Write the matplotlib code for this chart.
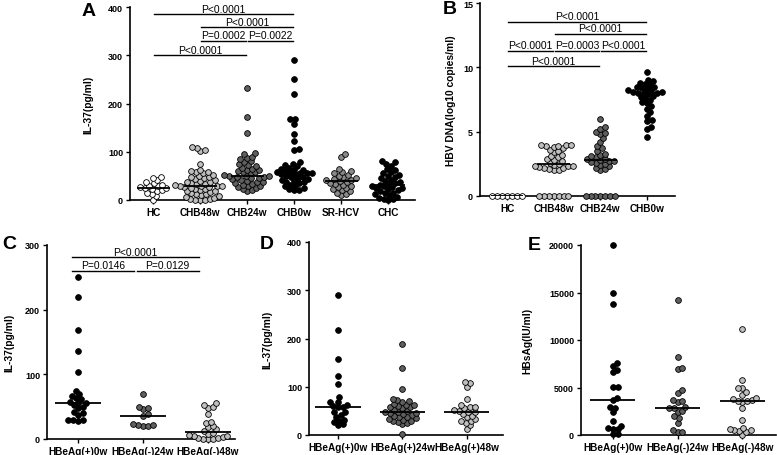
#!/usr/bin/env python3
"""
Scatter plots IL-37 / HBV DNA / HBsAg (style GraphPad)
"""

import numpy as np
import matplotlib
matplotlib.use("Agg")
import matplotlib.pyplot as plt

plt.rcParams['font.family'] = ['Liberation Sans', 'DejaVu Sans']

WHITE, LIGHT, MID, DARK, BLACK = '#ffffff', '#bfbfbf', '#8a8a8a', '#5f5f5f', '#000000'

# ---- Panel A : IL-37 (pg/ml)
a_groups = ['HC', 'CHB48w', 'CHB24w', 'CHB0w', 'SR-HCV', 'CHC']
a_hc = [0, 8, 12, 15, 18, 20, 22, 24, 25, 26, 28, 30, 32, 35, 38, 42, 45, 47]
a_chb48 = [0, 0, 1, 2, 3, 5, 6, 8, 10, 12, 13, 15, 16, 18, 19, 20, 22, 23, 25, 26,
           27, 28, 29, 30, 30, 31, 33, 34, 35, 37, 38, 40, 41, 43, 45, 47, 48, 50,
           52, 55, 57, 58, 60, 62, 75, 101, 104, 108, 110]
a_chb24 = [18, 20, 22, 25, 27, 28, 30, 32, 33, 35, 37, 38, 40, 41, 43, 45, 46, 47,
           48, 50, 50, 50, 51, 55, 57, 58, 60, 62, 63, 65, 67, 70, 72, 75, 78, 80,
           85, 88, 90, 95, 97, 139, 172, 232]
a_chb0 = [20, 21, 22, 25, 28, 30, 32, 35, 37, 38, 40, 42, 43, 45, 47, 48, 50, 52,
          53, 55, 55, 55, 57, 58, 60, 62, 63, 65, 67, 70, 72, 75, 78, 103, 106, 122,
          136, 158, 168, 168, 220, 250, 290]
a_srhcv = [10, 12, 15, 18, 20, 22, 25, 27, 30, 32, 34, 36, 38, 40, 41, 42, 44, 45,
           47, 50, 52, 55, 57, 60, 65, 90, 95]
a_chc = [0, 2, 3, 5, 7, 10, 12, 14, 15, 18, 20, 22, 24, 25, 27, 28, 30, 32, 33, 35,
         38, 40, 42, 45, 48, 50, 52, 55, 58, 62, 65, 70, 75, 78, 80]
a_values = [a_hc, a_chb48, a_chb24, a_chb0, a_srhcv, a_chc]
a_colors = [WHITE, LIGHT, DARK, BLACK, MID, BLACK]
a_pvals = [(0, 3, 385, 'P<0.0001'), (1, 3, 358, 'P<0.0001'),
           (1, 2, 330, 'P=0.0002'), (2, 3, 330, 'P=0.0022'),
           (0, 2, 300, 'P<0.0001')]

# ---- Panel B : HBV DNA (log10 copies/ml)
b_groups = ['HC', 'CHB48w', 'CHB24w', 'CHB0w']
b_hc = [0, 0, 0, 0, 0, 0, 0]
b_chb48 = [0, 0, 0, 0, 0, 0, 0,
           2.0, 2.05, 2.1, 2.15, 2.2, 2.25, 2.3, 2.3, 2.35, 2.4, 2.45, 2.6, 2.7, 2.8,
           2.9, 3.0, 3.1, 3.2, 3.4, 3.5, 3.6, 3.7, 3.8, 3.85, 3.9, 3.95, 4.0, 4.0]
b_chb24 = [0, 0, 0, 0, 0, 0, 0,
           2.0, 2.1, 2.2, 2.3, 2.4, 2.5, 2.6, 2.65, 2.7, 2.75, 2.8, 2.85, 2.9, 3.0,
           3.1, 3.2, 3.3, 3.5, 3.7, 3.9, 4.2, 4.5, 4.8, 4.9, 5.0, 5.2, 5.4, 6.0]
b_chb0 = [4.6, 5.2, 5.4, 5.8, 5.9, 6.2, 6.5, 6.8, 7.0, 7.2, 7.3, 7.5, 7.6, 7.7, 7.8,
          7.9, 8.0, 8.0, 8.0, 8.1, 8.1, 8.2, 8.2, 8.3, 8.4, 8.5, 8.5, 8.6, 8.7, 8.8,
          8.9, 9.0, 9.6]
b_values = [b_hc, b_chb48, b_chb24, b_chb0]
b_colors = [WHITE, LIGHT, DARK, BLACK]
b_pvals = [(0, 3, 13.55, 'P<0.0001'), (1, 3, 12.6, 'P<0.0001'),
           (0, 1, 11.3, 'P<0.0001'), (1, 2, 11.3, 'P=0.0003'),
           (2, 3, 11.3, 'P<0.0001'), (0, 2, 10.1, 'P<0.0001')]

# ---- Panel C : IL-37, HBeAg(+)0w -> HBeAg(-)
c_groups = ['HBeAg(+)0w', 'HBeAg(-)24w', 'HBeAg(-)48w']
c_pos0 = [28, 29, 30, 30, 37, 40, 42, 48, 50, 52, 55, 56, 57, 62, 64, 66, 70, 75,
          103, 136, 168, 220, 250]
c_neg24 = [20, 20, 21, 22, 23, 36, 38, 47, 48, 50, 70]
c_neg48 = [0, 0, 0, 1, 2, 3, 4, 5, 6, 8, 10, 12, 15, 18, 20, 25, 27, 38, 48, 50, 52, 55]
c_values = [c_pos0, c_neg24, c_neg48]
c_colors = [BLACK, DARK, LIGHT]
c_pvals = [(0, 2, 281, 'P<0.0001'), (0, 1, 260, 'P=0.0146'), (1, 2, 260, 'P=0.0129')]

# ---- Panel D : IL-37, HBeAg(+) persistant
d_groups = ['HBeAg(+)0w', 'HBeAg(+)24w', 'HBeAg(+)48w']
d_pos0 = [20, 22, 27, 30, 32, 38, 42, 47, 48, 57, 58, 60, 62, 68, 68, 78, 105, 122,
          158, 218, 290]
d_pos24 = [3, 22, 25, 27, 28, 30, 32, 33, 35, 37, 38, 40, 42, 43, 45, 46, 47, 48, 50,
           52, 55, 57, 58, 60, 62, 63, 65, 68, 70, 72, 75, 95, 138, 188]
d_pos48 = [12, 20, 25, 28, 30, 33, 38, 40, 43, 47, 48, 50, 52, 55, 57, 58, 62, 75,
           100, 108, 110]
d_values = [d_pos0, d_pos24, d_pos48]
d_colors = [BLACK, DARK, LIGHT]

# ---- Panel E : HBsAg (IU/ml)
e_groups = ['HBeAg(+)0w', 'HBeAg(-)24w', 'HBeAg(-)48w']
e_pos0 = [80, 100, 600, 650, 700, 1000, 1500, 2400, 2850, 2900, 3700, 3850, 5050,
          5100, 6600, 6800, 7300, 7550, 13800, 15000, 20000]
e_neg24 = [300, 350, 500, 1300, 1800, 2000, 2450, 2500, 2800, 2850, 2900, 3500, 3600,
           3650, 4400, 4700, 6900, 7100, 8200, 14200]
e_neg48 = [0, 300, 400, 500, 550, 600, 700, 1600, 2800, 3500, 3550, 3600, 3700, 3750,
           3900, 4200, 4500, 4900, 5000, 5800, 11200]
e_values = [e_pos0, e_neg24, e_neg48]
e_colors = [BLACK, DARK, LIGHT]

W, H = 777, 456


def add_axes(fig, left, right, top, bottom):
    """Axes placees en pixels de la figure"""
    return fig.add_axes([left / W, 1 - bottom / H, (right - left) / W, (bottom - top) / H])


def swarm(ax, xpos, values, color, d=4.9, s=17):
    """Nuage de points en essaim (leger chevauchement comme GraphPad)"""
    vals = np.asarray(values, float)
    order = np.argsort(vals, kind='stable')
    pts = ax.transData.transform(np.column_stack([np.full(len(vals), xpos), vals]))
    x0 = pts[0, 0]
    placed = []
    xs = np.zeros(len(vals))
    for i in order:
        y = pts[i, 1]
        cands = [0.0]
        for px, py in placed:
            dy = y - py
            if abs(dy) < d:
                dx = np.sqrt(d * d - dy * dy)
                cands += [px + dx, px - dx]
        cands.sort(key=abs)
        for c in cands:
            if all((c - px) ** 2 + (y - py) ** 2 >= d * d - 1e-6 for px, py in placed):
                break
        placed.append((c, y))
        xs[i] = x0 + c
    xd = ax.transData.inverted().transform(np.column_stack([xs, pts[:, 1]]))[:, 0]
    ax.scatter(xd, vals, s=s, c=color, edgecolors='black', linewidths=0.6,
               zorder=3, clip_on=False)


def panel(ax, groups, values, colors, xlim, ylim, yticks, ylabel, labx,
          pvals=(), pshift=0.0):
    ax.set_xlim(*xlim)
    ax.set_ylim(*ylim)
    for sp in ['top', 'right']:
        ax.spines[sp].set_visible(False)
    for sp in ['left', 'bottom']:
        ax.spines[sp].set_linewidth(1.2)
    ax.set_yticks(yticks)
    ax.set_yticklabels([str(t) for t in yticks], fontsize=6.5, fontweight='bold')
    ax.set_xticks(range(len(groups)))
    ax.set_xticklabels(groups, fontsize=7.2, fontweight='bold')
    ax.tick_params(axis='y', length=3, width=1, pad=2)
    ax.tick_params(axis='x', length=3, width=1, pad=2)
    ax.set_ylabel(ylabel, fontsize=7.4, fontweight='bold')
    ax.yaxis.set_label_coords(labx, 0.5)

    for i, (v, col) in enumerate(zip(values, colors)):
        swarm(ax, i, v, col)
        med = np.median(v)
        ax.plot([i - 0.35, i + 0.35], [med, med], color='black', lw=1.3,
                zorder=4, solid_capstyle='butt')

    for i, j, y, txt in pvals:
        x1, x2 = i + pshift + 0.02, j + pshift - 0.02
        ax.plot([x1, x2], [y, y], color='black', lw=1.0, clip_on=False)
        ax.annotate(txt, ((x1 + x2) / 2, y), xytext=(0, 0.3), textcoords='offset points',
                    ha='center', va='bottom', fontsize=7.4, annotation_clip=False)


def main():
    fig = plt.figure(figsize=(W / 100, H / 100), dpi=100)

    axA = add_axes(fig, 130, 415, 8, 201)
    panel(axA, a_groups, a_values, a_colors, (-0.49, 5.57), (0, 400),
          [0, 100, 200, 300, 400], 'IL-37(pg/ml)', -0.13, a_pvals)

    axB = add_axes(fig, 480, 675, 4, 197)
    panel(axB, b_groups, b_values, b_colors, (-0.58, 3.6), (0, 15),
          [0, 5, 10, 15], 'HBV DNA(log10 copies/ml)', -0.123, b_pvals)

    axC = add_axes(fig, 47, 235, 246, 440)
    panel(axC, c_groups, c_values, c_colors, (-0.477, 2.415), (0, 300),
          [0, 100, 200, 300], 'IL-37(pg/ml)', -0.176, c_pvals, pshift=-0.12)

    axD = add_axes(fig, 309, 503, 243, 436)
    panel(axD, d_groups, d_values, d_colors, (-0.45, 2.56), (0, 400),
          [0, 100, 200, 300, 400], 'IL-37(pg/ml)', -0.19)

    axE = add_axes(fig, 581, 776, 246, 436)
    panel(axE, e_groups, e_values, e_colors, (-0.49, 2.52), (0, 20000),
          [0, 5000, 10000, 15000, 20000], 'HBsAg(IU/ml)', -0.251)

    # lettres des panneaux
    for txt, x, y in [('A', 89, 12), ('B', 450, 10), ('C', 9, 245),
                      ('D', 267, 245), ('E', 534, 246)]:
        fig.text(x / W, 1 - y / H, txt, fontsize=14, fontweight='bold',
                 ha='center', va='center')

    fig.savefig('out.png', dpi=100)
    plt.close(fig)


if __name__ == "__main__":
    main()
